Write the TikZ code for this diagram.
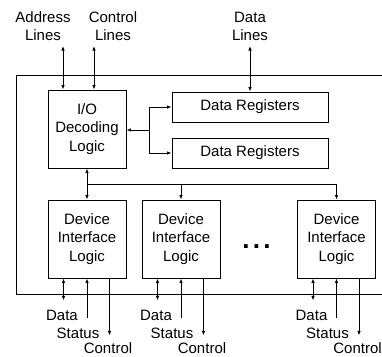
\documentclass[tikz,border=0pt]{standalone}
\usepackage{fontspec}
\setmainfont{Liberation Sans}
\usetikzlibrary{arrows.meta,calc}
\tikzset{
  box/.style={draw, line width=0.9pt, align=center, inner sep=0pt,
    font=\fontsize{15}{18.5}\selectfont},
  lbl/.style={align=center, inner sep=0pt, font=\fontsize{15}{18}\selectfont},
  tip/.tip={Latex[length=4.5pt,width=3.5pt]},
  arr/.style={-tip, line width=0.9pt},
  biarr/.style={tip-tip, line width=0.9pt},
  plain/.style={line width=0.9pt}
}
\begin{document}
\begin{tikzpicture}[x=1pt,y=-1pt]
\useasboundingbox (0,0) rectangle (382,356);
% outer frame (open on the right)
\draw[plain] (382,75) -- (16,75) -- (16,294) -- (382,294);
% top labels
\node[lbl] (addr) at (43,26) {Address\\Lines};
\node[lbl] (ctrl) at (113,26) {Control\\Lines};
\node[lbl] (data) at (250,26) {Data\\Lines};
% main boxes
\node[box, minimum width=78, minimum height=78] (io) at (87,129) {I/O\\Decoding\\Logic};
\node[box, minimum width=156, minimum height=30] (dr1) at (250,107) {Data Registers};
\node[box, minimum width=156, minimum height=30] (dr2) at (250,153) {Data Registers};
% top arrows
\coordinate (a0) at (63,46);
\coordinate (c0) at (94,46);
\coordinate (d0) at (250,46);
\draw[biarr] (a0) -- (a0 |- io.north);
\draw[biarr] (c0) -- (c0 |- io.north);
\draw[biarr] (d0) -- (dr1.north);
% branch between I/O and registers
\coordinate (j) at (149,130);
\draw[arr] (j) -- (j -| io.east);
\draw[plain] (j |- dr1.west) -- (j |- dr2.west);
\draw[arr] (j |- dr1.west) -- (dr1.west);
\draw[arr] (j |- dr2.west) -- (dr2.west);
% device boxes
\foreach \n/\cx in {d1/87, d2/181, d3/336.5}{
  \node[box, minimum width=78, minimum height=78] (\n) at (\cx,239) {Device\\Interface\\Logic};
  \coordinate (\n d) at ($(\n.south)+(-23.5,22)$);
  \coordinate (\n s) at ($(\n.south)+(0,40)$);
  \coordinate (\n c) at ($(\n.south)+(22.5,57)$);
  \draw[biarr] (\n d |- \n.south) -- (\n d);
  \draw[arr] (\n s) -- (\n.south);
  \draw[arr] (\n c |- \n.south) -- (\n c);
  \node[lbl] (\n dl) at ($(\n.south)+(-25,37)$) {Data};
  \node[lbl] (\n sl) at ($(\n.south)+(-9,55)$) {Status};
  \node[lbl] (\n cl) at ($(\n.south)+(21,70)$) {Control};
}
% bus
\coordinate (b1) at (87,184);
\coordinate (b3) at (336.5,184);
\draw[biarr] (io.south) -- (d1.north);
\draw[plain] (b1) -- (b3);
\draw[arr] (b1 -| d2.north) -- (d2.north);
\draw[arr] (b3) -- (d3.north);
% ellipsis
\node[inner sep=0pt, font=\fontsize{26}{26}\selectfont\bfseries] (dots) at (256.5,246.5) {.\kern3.3pt.\kern3.3pt.};
\end{tikzpicture}
\end{document}
